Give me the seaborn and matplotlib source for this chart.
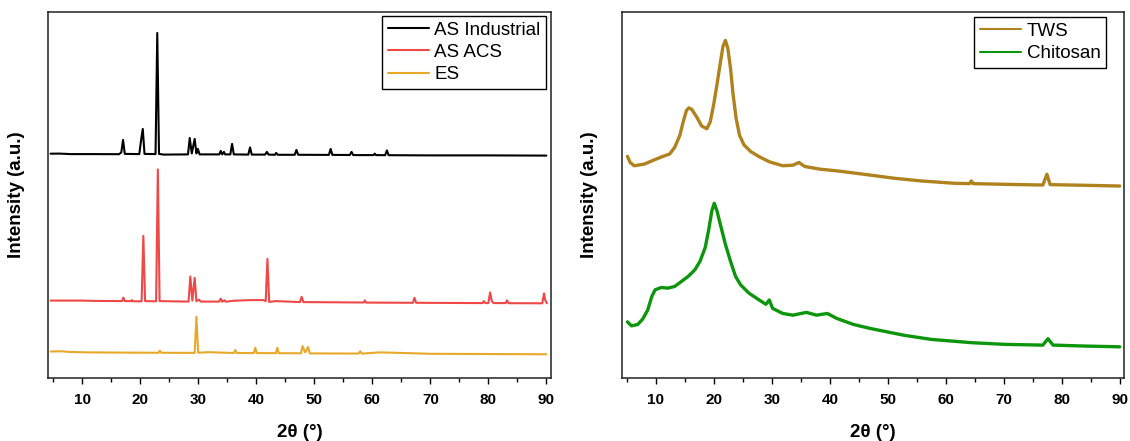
import numpy as np
import pandas as pd
import matplotlib
matplotlib.use("Agg")
import matplotlib.pyplot as plt
import seaborn as sns
from matplotlib.ticker import MultipleLocator

# --- data (intensity in arbitrary units, stacked as drawn) ---
as_ind_x = [4.5, 6, 8, 12, 16.3, 16.7, 17.0, 17.3, 19.8, 20.15, 20.4, 20.7, 22.6, 22.9, 23.2, 24,
            28.2, 28.5, 28.85, 29.35, 29.65, 29.9, 30.2, 33.6, 33.85, 34.1, 34.4, 34.6, 35.5, 35.8,
            36.1, 38.6, 38.9, 39.2, 41.5, 41.8, 42.1, 43.2, 43.4, 43.7, 46.6, 46.9, 47.2, 52.5,
            52.8, 53.1, 56.1, 56.4, 56.7, 60.2, 60.4, 60.6, 62.2, 62.5, 62.8, 70, 80, 90]
as_ind_y = [224.7, 224.8, 224.3, 224.3, 224.2, 226, 238.5, 224.5, 224.3, 240, 249.5, 224.5, 224.3,
            345.7, 224.5, 223.8, 224, 240.5, 225, 239.5, 225, 229.5, 224, 224, 227.5, 224, 226.5,
            224, 224, 234.5, 224, 223.8, 231, 223.8, 223.8, 226.5, 223.8, 223.6, 225.5, 223.6,
            223.6, 228.5, 223.6, 223.5, 229.5, 223.5, 223.4, 226.5, 223.3, 223.3, 224.8, 223.3,
            223.2, 228, 223.2, 223, 223, 222.8]

as_acs_x = [4.5, 10, 12, 16.8, 17.05, 17.3, 18.4, 18.55, 18.7, 20.2, 20.5, 20.8, 22.7, 23.0, 23.3,
            28.3, 28.6, 28.95, 29.35, 29.65, 30.1, 30.4, 33.6, 33.85, 34.1, 34.5, 34.7, 36.2, 39.05,
            41.2, 41.6, 41.9, 42.2, 43.35, 47.5, 47.8, 48.1, 58.5, 58.7, 58.9, 67.0, 67.25, 67.55,
            79.0, 79.2, 79.5, 80.0, 80.3, 80.6, 80.9, 83.0, 83.2, 83.5, 89.3, 89.6, 89.8, 90.1]
as_acs_y = [77.5, 77.5, 77.2, 77, 80.5, 77, 77, 78, 76.8, 76.8, 142.3, 77, 76.8, 209, 77,
            76.5, 101.7, 77.5, 100.3, 77, 78.5, 76.5, 76.5, 79.5, 76.4, 77.8, 76.4, 77.4, 78,
            78, 77, 119.3, 76.2, 77, 76, 81.3, 76, 75.6, 77.7, 75.5, 75.3, 80.3, 75.3,
            75, 77, 75, 75, 85.7, 77, 75, 75, 77.7, 74.9, 74.8, 84.7, 78, 74.8]

es_x = [4.5, 6.5, 7.5, 11, 23.1, 23.35, 23.6, 29.35, 29.65, 29.95, 31.8, 36.1, 36.35, 36.6, 39.55,
        39.8, 40.05, 43.35, 43.6, 43.85, 47.7, 47.95, 48.4, 48.9, 49.2, 57.6, 57.9, 58.2, 61.3,
        65.2, 70, 90]
es_y = [26.5, 26.7, 26.1, 25.6, 25.2, 27.3, 25.2, 25.1, 61.3, 25.3, 25.8, 25, 28, 25, 24.9,
        30.3, 24.9, 24.8, 30.3, 24.8, 24.7, 32, 25.5, 31, 24.6, 24.4, 26.7, 24.4, 25.6,
        25, 24.2, 23.7]

tws_x = [5.09, 5.55, 6.25, 8.0, 9.75, 11.2, 12.37, 13.24, 14.12, 14.7, 15.28, 15.69, 16.15, 17.03,
         17.9, 18.78, 19.36, 19.94, 20.52, 21.1, 21.57, 21.98, 22.39, 22.86, 23.32, 23.84, 24.43,
         25.19, 26.36, 27.81, 29.56, 31.89, 33.63, 34.68, 35.67, 38.29, 41.2, 45.87, 51.1, 55.77,
         61.6, 64.1, 64.4, 64.7, 70.33, 76.75, 77.44, 78.0, 84.3, 90.0]
tws_y = [222.0, 215.9, 212.6, 214.3, 218.6, 222.0, 224.4, 231.1, 243.0, 256.5, 268.3, 270.6, 269.3,
         261.5, 252.4, 249.7, 256.5, 273.3, 293.6, 315.5, 332.4, 338.2, 330.7, 310.5, 283.5, 259.8,
         243.0, 233.5, 226.8, 221.7, 216.6, 212.6, 213.2, 215.9, 211.9, 209.2, 207.5, 204.1, 200.1,
         197.4, 195.0, 194.7, 197.4, 194.7, 194.0, 193.3, 204.1, 193.7, 193.0, 192.3]

chi_x = [5.09, 5.79, 6.84, 7.71, 8.58, 9.28, 9.86, 10.91, 12.08, 13.24, 14.4, 15.57, 16.74, 17.61,
         18.49, 19.07, 19.65, 20.06, 20.52, 21.1, 21.98, 22.86, 23.73, 24.6, 26.06, 27.81, 28.97,
         29.55, 30.13, 31.88, 33.63, 35.96, 37.71, 39.57, 41.2, 44.12, 47.03, 49.94, 52.86, 57.52,
         64.51, 70.33, 76.75, 77.62, 78.5, 84.3, 90.0]
chi_y = [56.2, 52.2, 53.5, 58.9, 68.0, 81.5, 88.3, 90.6, 90.0, 91.7, 96.7, 101.8, 108.5, 117.0,
         130.5, 147.4, 167.6, 175.0, 167.6, 154.1, 133.9, 117.0, 101.8, 93.3, 84.9, 78.1, 73.8,
         78.1, 69.7, 64.6, 62.9, 65.7, 62.9, 64.6, 59.6, 53.5, 49.5, 46.1, 42.7, 38.6,
         35.3, 33.6, 32.9, 39.3, 32.9, 31.9, 31.2]

left_series = [("AS Industrial", as_ind_x, as_ind_y, "#000000"),
               ("AS ACS", as_acs_x, as_acs_y, "#F04747"),
               ("ES", es_x, es_y, "#E8A82A")]
right_series = [("TWS", tws_x, tws_y, "#B0821E"),
                ("Chitosan", chi_x, chi_y, "#0C960C")]

sns.set_style("ticks")
plt.rcParams["font.family"] = ["Liberation Sans", "DejaVu Sans"]

fig = plt.figure(figsize=(11.3, 4.41), dpi=100)
ax1 = fig.add_axes([0.0427, 0.143, 0.4449, 0.8305])
ax2 = fig.add_axes([0.5502, 0.143, 0.4448, 0.8305])


def draw_panel(ax, series, lw, anchor):
    for name, xs, ys, col in series:
        df = pd.DataFrame({"x": xs, "y": ys})
        sns.lineplot(data=df, x="x", y="y", ax=ax, color=col, lw=lw, label=name,
                     sort=False, estimator=None)
    ax.set_xlim(4.1, 90.8)
    ax.set_ylim(0, 367)
    ax.set_yticks([])
    ax.xaxis.set_major_locator(MultipleLocator(10))
    ax.xaxis.set_minor_locator(MultipleLocator(5))
    ax.set_xticks([10, 20, 30, 40, 50, 60, 70, 80, 90])
    ax.tick_params(axis="x", which="major", direction="out", length=4, width=1,
                   labelsize=11, pad=7, color="black", labelcolor="black")
    ax.tick_params(axis="x", which="minor", direction="out", length=3, width=1, color="black")
    for lab in ax.get_xticklabels():
        lab.set_fontweight("bold")
    for sp in ax.spines.values():
        sp.set_visible(True)
        sp.set_color("#222222")
        sp.set_linewidth(1.1)
    ax.set_xlabel("2θ (°)", fontsize=13.5, fontweight="bold", labelpad=12, color="black")
    ax.set_ylabel("Intensity (a.u.)", fontsize=13.5, fontweight="bold", labelpad=17, color="black")
    leg = ax.legend(loc="upper right", bbox_to_anchor=anchor, borderaxespad=0,
                    fontsize=13.5, frameon=True, fancybox=False, framealpha=1,
                    edgecolor="black", handlelength=2.2, handletextpad=0.3,
                    labelspacing=0.27, borderpad=0.3)
    leg.get_frame().set_linewidth(1.0)
    for t in leg.get_texts():
        t.set_color("black")
    for h in leg.get_lines():
        h.set_linewidth(1.5)


draw_panel(ax1, left_series, 1.5, (0.9906, 0.988))
draw_panel(ax2, right_series, 2.4, (0.964, 0.985))

fig.savefig("out.png", dpi=100)
